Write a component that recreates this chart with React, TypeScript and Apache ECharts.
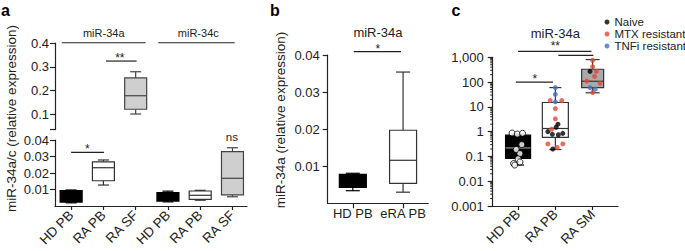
import React, { useEffect, useRef } from 'react';
import * as echarts from 'echarts';

const FONT = '"Liberation Sans", Arial, Helvetica, sans-serif';
const INK = '#222';

// ---------------- Panel a ----------------
const aCategories = ['HD PB', 'RA PB', 'RA SF', 'HD PB', 'RA PB', 'RA SF'];
const aGroupNames = ['miR-34a', 'miR-34c'];
const aYTitle = 'miR-34a/c (relative expression)';
const aUpperTicks = [0.1, 0.2, 0.3, 0.4];
const aLowerTicks = [0.01, 0.02, 0.03, 0.04];
// box stats: [min, q1, median, q3, max]
const a34aHdPb = [0.0019, 0.0024, 0.005, 0.0093, 0.0097];
const a34aRaPb = [0.0127, 0.0153, 0.0232, 0.0268, 0.0279];
const a34aRaSf = [0.101, 0.121, 0.178, 0.253, 0.279];
const a34cHdPb = [0.0025, 0.003, 0.006, 0.0081, 0.009];
const a34cRaPb = [0.0035, 0.004, 0.0065, 0.0091, 0.0095];
const a34cRaSf = [0.0056, 0.0067, 0.0168, 0.033, 0.0353];

// ---------------- Panel b ----------------
const bCategories = ['HD PB', 'eRA PB'];
const bTitle = 'miR-34a';
const bYTitle = 'miR-34a (relative expression)';
const bTicks = [0.01, 0.02, 0.03, 0.04];
const bHdPb = [0.0034, 0.0043, 0.0055, 0.0078, 0.0081];
const bEraPb = [0.003, 0.0054, 0.0116, 0.0197, 0.0354];

// ---------------- Panel c ----------------
const cCategories = ['HD PB', 'RA PB', 'RA SM'];
const cTitle = 'miR-34a';
const cTickLabels = ['0.001', '0.01', '0.1', '1', '10', '100', '1,000'];
const cLegend = ['Naive', 'MTX resistant', 'TNFi resistant'];
const cHdPbBox = [0.045, 0.083, 0.22, 0.72, 0.8];
const cRaPbBox = [0.19, 0.59, 1.34, 15, 60];
const cRaSmBox = [37, 60, 108, 330, 810];
const cHdPbPoints = [0.88, 0.8, 0.86, 0.3, 0.19, 0.13, 0.08, 0.06, 0.052, 0.045];
const cRaPbNaive = [2.0, 1.5, 1.0, 0.78, 0.75, 0.85, 0.2];
const cRaPbMtx = [18, 18, 8.5, 3.3, 1.25, 0.32, 0.32, 0.23];
const cRaPbTnfi = [60, 32, 16];
const cRaSmNaive = [270];
const cRaSmMtx = [760, 420, 270, 170, 110, 90, 38];
const cRaSmTnfi = [60, 52];

// horizontal jitter of the dots (layout, in category units)
const jHdPb = [-0.16, -0.02, 0.12, 0.1, -0.05, 0.05, 0, 0.05, -0.12, -0.09];
const jRaPbNaive = [0.07, 0.02, -0.2, -0.08, 0.08, 0.2, -0.07];
const jRaPbMtx = [-0.14, 0.17, 0, 0, -0.1, -0.2, 0.2, 0.05];
const jRaPbTnfi = [0, 0, 0];
const jRaSmNaive = [-0.07];
const jRaSmMtx = [0, 0, 0.1, 0.05, -0.16, 0.2, 0];
const jRaSmTnfi = [-0.07, 0.07];

const RED = '#dd4b39';
const BLUE = '#4472c4';

function boxSeries(
  stats: number[], x: number, xi: number, yi: number,
  boxW: number, capW: number, fill: string, stroke: string, medColor: string,
) {
  return {
    type: 'custom',
    xAxisIndex: xi,
    yAxisIndex: yi,
    silent: true,
    clip: false,
    z: 2,
    data: [[x, ...stats]],
    renderItem: (_p: any, api: any) => {
      const xv = api.value(0);
      const y = (k: number) => api.coord([xv, api.value(k)])[1];
      const cx = api.coord([xv, api.value(3)])[0];
      const yMin = y(1), yQ1 = y(2), yMed = y(3), yQ3 = y(4), yMax = y(5);
      const ls = { stroke, lineWidth: 1.2, fill: null };
      return {
        type: 'group',
        children: [
          { type: 'line', shape: { x1: cx, y1: yMax, x2: cx, y2: yQ3 }, style: ls },
          { type: 'line', shape: { x1: cx, y1: yQ1, x2: cx, y2: yMin }, style: ls },
          { type: 'line', shape: { x1: cx - capW / 2, y1: yMax, x2: cx + capW / 2, y2: yMax }, style: ls },
          { type: 'line', shape: { x1: cx - capW / 2, y1: yMin, x2: cx + capW / 2, y2: yMin }, style: ls },
          { type: 'rect', shape: { x: cx - boxW / 2, y: yQ3, width: boxW, height: yQ1 - yQ3 }, style: { fill, stroke, lineWidth: 1.2 } },
          { type: 'line', shape: { x1: cx - boxW / 2, y1: yMed, x2: cx + boxW / 2, y2: yMed }, style: { stroke: medColor, lineWidth: 1.2 } },
        ],
      };
    },
  };
}

type Api = any;
const seg = (api: Api, x1: number, y1: number, x2: number, y2: number) => {
  const p1 = api.coord([x1, y1]);
  const p2 = api.coord([x2, y2]);
  return { type: 'line', shape: { x1: p1[0], y1: p1[1], x2: p2[0], y2: p2[1] }, style: { stroke: INK, lineWidth: 1.2 } };
};
const txt = (api: Api, x: number, y: number, text: string, size: number, dy = 0) => {
  const p = api.coord([x, y]);
  return {
    type: 'text', x: p[0], y: p[1] + dy,
    style: { text, fontSize: size, fontFamily: FONT, fill: INK, align: 'center', verticalAlign: 'middle' },
  };
};
function annoSeries(xi: number, yi: number, anchor: number[], draw: (api: Api) => any[]) {
  return {
    type: 'custom', xAxisIndex: xi, yAxisIndex: yi, silent: true, clip: false, z: 5,
    data: [anchor],
    renderItem: (_p: any, api: Api) => ({ type: 'group', children: draw(api) }),
  };
}

function buildOption() {
  const axisLineStyle = { color: INK, width: 1.2 };
  const labelBase = { color: INK, fontFamily: FONT };
  const aIdx = aCategories.map((_, i) => i);
  const bIdx = bCategories.map((_, i) => i);
  const cIdx = cCategories.map((_, i) => i);

  const cMinorTicks: number[] = [];
  for (let e = -3; e < 3; e++) for (let k = 2; k <= 9; k++) cMinorTicks.push(k * Math.pow(10, e));

  const pts = (vals: number[], jit: number[], cat: number) => vals.map((v, i) => [cat + jit[i], v]);

  return {
    animation: false,
    textStyle: { fontFamily: FONT },
    grid: [
      { left: 55, top: 43, width: 192, height: 86.7, outerBoundsMode: 'none' },
      { left: 55, top: 140, width: 192, height: 66, outerBoundsMode: 'none' },
      { left: 327.7, top: 55, width: 100.5, height: 148.3, outerBoundsMode: 'none' },
      { left: 492.7, top: 57.3, width: 125.3, height: 148.7, outerBoundsMode: 'none' },
    ],
    xAxis: [
      { gridIndex: 0, type: 'value', min: -0.5, max: 5.45, show: false },
      {
        gridIndex: 1, type: 'value', min: -0.5, max: 5.45, splitLine: { show: false },
        axisLine: { show: true, onZero: false, lineStyle: axisLineStyle },
        axisTick: { show: true, customValues: aIdx, length: 4, lineStyle: axisLineStyle },
        axisLabel: { ...labelBase, customValues: aIdx, rotate: 45, margin: 7, fontSize: 13.5, formatter: (v: number) => aCategories[Math.round(v)] },
      },
      {
        gridIndex: 2, type: 'value', min: -0.5, max: 1.5, splitLine: { show: false },
        axisLine: { show: true, onZero: false, lineStyle: axisLineStyle },
        axisTick: { show: true, customValues: bIdx, length: 5, lineStyle: axisLineStyle },
        axisLabel: { ...labelBase, customValues: bIdx, margin: 4, fontSize: 13, formatter: (v: number) => bCategories[Math.round(v)] },
      },
      {
        gridIndex: 3, type: 'value', min: -0.68, max: 2.68, splitLine: { show: false },
        axisLine: { show: true, onZero: false, lineStyle: axisLineStyle },
        axisTick: { show: true, customValues: cIdx, length: 4, lineStyle: axisLineStyle },
        axisLabel: { ...labelBase, customValues: cIdx, rotate: 45, margin: 6, fontSize: 13.5, formatter: (v: number) => cCategories[Math.round(v)] },
      },
    ],
    yAxis: [
      {
        gridIndex: 0, type: 'value', min: 0.035, max: 0.4, splitLine: { show: false },
        axisLine: { show: true, onZero: false, lineStyle: axisLineStyle },
        axisTick: { show: true, customValues: [0.035, ...aUpperTicks], length: 5, lineStyle: axisLineStyle },
        axisLabel: { ...labelBase, customValues: aUpperTicks, margin: 6, fontSize: 13, formatter: (v: number) => v.toFixed(1) },
      },
      {
        gridIndex: 1, type: 'value', min: 0, max: 0.04, splitLine: { show: false },
        axisLine: { show: true, onZero: false, lineStyle: axisLineStyle },
        axisTick: { show: true, customValues: aLowerTicks, length: 5, lineStyle: axisLineStyle },
        axisLabel: { ...labelBase, customValues: aLowerTicks, margin: 6, fontSize: 13, formatter: (v: number) => v.toFixed(2) },
      },
      {
        gridIndex: 2, type: 'value', min: 0, max: 0.04, splitLine: { show: false },
        axisLine: { show: true, onZero: false, lineStyle: axisLineStyle },
        axisTick: { show: true, customValues: bTicks, length: 5, lineStyle: axisLineStyle },
        axisLabel: { ...labelBase, customValues: bTicks, margin: 8, fontSize: 13, formatter: (v: number) => v.toFixed(2) },
      },
      {
        gridIndex: 3, type: 'log', logBase: 10, min: 0.001, max: 1000, splitLine: { show: false },
        axisLine: { show: true, onZero: false, lineStyle: axisLineStyle },
        axisTick: { show: true, length: 5, lineStyle: axisLineStyle },
        axisLabel: {
          ...labelBase, margin: 9, fontSize: 13,
          formatter: (v: number) => cTickLabels[Math.round(Math.log10(v)) + 3],
        },
      },
    ],
    legend: {
      data: cLegend,
      orient: 'vertical',
      left: 604.5,
      top: 16,
      padding: 0,
      itemGap: 0,
      itemWidth: 5,
      itemHeight: 5,
      icon: 'circle',
      selectedMode: false,
      textStyle: { fontSize: 11.5, color: INK, fontFamily: FONT },
    },
    graphic: [
      { type: 'text', x: 1, y: 10, style: { text: 'a', font: `bold 16px ${FONT}`, fill: '#000', verticalAlign: 'middle' } },
      { type: 'text', x: 270, y: 10, style: { text: 'b', font: `bold 16px ${FONT}`, fill: '#000', verticalAlign: 'middle' } },
      { type: 'text', x: 451.5, y: 10, style: { text: 'c', font: `bold 16px ${FONT}`, fill: '#000', verticalAlign: 'middle' } },
      {
        type: 'text', x: 11, y: 118.5, rotation: Math.PI / 2,
        style: { text: aYTitle, fontSize: 13.5, fontFamily: FONT, fill: INK, align: 'center', verticalAlign: 'middle' },
      },
      {
        type: 'text', x: 280, y: 120, rotation: Math.PI / 2,
        style: { text: bYTitle, fontSize: 13.5, fontFamily: FONT, fill: INK, align: 'center', verticalAlign: 'middle' },
      },
    ],
    series: [
      // panel a boxes
      boxSeries(a34aHdPb, 0, 1, 1, 22, 11, '#000', '#000', '#000'),
      boxSeries(a34aRaPb, 1, 1, 1, 22, 11, '#fff', '#333', '#333'),
      boxSeries(a34aRaSf, 2, 0, 0, 22, 11, '#cfcfcf', '#444', '#444'),
      boxSeries(a34cHdPb, 3, 1, 1, 22, 11, '#000', '#000', '#000'),
      boxSeries(a34cRaPb, 4, 1, 1, 22, 11, '#fff', '#333', '#333'),
      boxSeries(a34cRaSf, 5, 1, 1, 22, 11, '#cfcfcf', '#444', '#444'),
      // panel a annotations
      annoSeries(0, 0, [0, 0.2], (api) => [
        seg(api, -0.29, 0.401, 2.31, 0.401),
        seg(api, 2.7, 0.401, 5.07, 0.401),
        txt(api, 1.01, 0.441, aGroupNames[0], 11),
        txt(api, 3.94, 0.441, aGroupNames[1], 11),
        seg(api, 1.08, 0.324, 2.03, 0.324),
        txt(api, 1.51, 0.324, '**', 12, -3),
      ]),
      annoSeries(1, 1, [0, 0.02], (api) => [
        seg(api, 0, 0.0325, 1.02, 0.0325),
        txt(api, 0.5, 0.0325, '*', 12, -3),
        txt(api, 4.98, 0.0421, 'ns', 11.5),
      ]),
      // panel b boxes
      boxSeries(bHdPb, 0, 2, 2, 27, 14, '#000', '#000', '#000'),
      boxSeries(bEraPb, 1, 2, 2, 27, 14, '#fff', '#333', '#333'),
      annoSeries(2, 2, [0, 0.02], (api) => [
        seg(api, 0.02, 0.0409, 0.96, 0.0409),
        txt(api, 0.5, 0.0409, '*', 12, -3),
        txt(api, 0.5, 0.0462, bTitle, 13),
      ]),
      // panel c boxes
      boxSeries(cHdPbBox, 0, 3, 3, 25, 12, '#000', '#000', '#999'),
      boxSeries(cRaPbBox, 1, 3, 3, 26, 12, '#fff', '#333', '#333'),
      boxSeries(cRaSmBox, 2, 3, 3, 22, 14, '#aaaaaa', '#333', '#333'),
      // panel c minor ticks on log axis
      {
        type: 'custom', xAxisIndex: 3, yAxisIndex: 3, silent: true, clip: false,
        data: cMinorTicks.map((v) => [-0.68, v]),
        renderItem: (_p: any, api: Api) => {
          const pt = api.coord([api.value(0), api.value(1)]);
          return { type: 'line', shape: { x1: pt[0] - 2.5, y1: pt[1], x2: pt[0], y2: pt[1] }, style: { stroke: INK, lineWidth: 1 } };
        },
      },
      annoSeries(3, 3, [0, 1], (api) => [
        seg(api, -0.06, 100, 0.94, 100),
        txt(api, 0.45, 100, '*', 12, -3),
        seg(api, 0.0, 1746, 1.97, 1746),
        seg(api, 1.08, 1206, 2.02, 1206),
        txt(api, 1.0, 1746, '**', 12, -5),
        txt(api, 1.0, 9270, cTitle, 13),
      ]),
      // panel c dots
      {
        type: 'scatter', name: 'HD', xAxisIndex: 3, yAxisIndex: 3, z: 4, symbol: 'circle', symbolSize: 6,
        itemStyle: { color: '#fff', borderColor: '#000', borderWidth: 1 },
        data: pts(cHdPbPoints, jHdPb, 0),
      },
      {
        type: 'scatter', name: cLegend[0], xAxisIndex: 3, yAxisIndex: 3, z: 4, symbol: 'circle', symbolSize: 5,
        itemStyle: { color: '#000' },
        data: [...pts(cRaPbNaive, jRaPbNaive, 1), ...pts(cRaSmNaive, jRaSmNaive, 2)],
      },
      {
        type: 'scatter', name: cLegend[1], xAxisIndex: 3, yAxisIndex: 3, z: 4, symbol: 'circle', symbolSize: 5,
        itemStyle: { color: RED },
        data: [...pts(cRaPbMtx, jRaPbMtx, 1), ...pts(cRaSmMtx, jRaSmMtx, 2)],
      },
      {
        type: 'scatter', name: cLegend[2], xAxisIndex: 3, yAxisIndex: 3, z: 4, symbol: 'circle', symbolSize: 5,
        itemStyle: { color: BLUE },
        data: [...pts(cRaPbTnfi, jRaPbTnfi, 1), ...pts(cRaSmTnfi, jRaSmTnfi, 2)],
      },
    ],
  };
}

export default function App() {
  const ref = useRef<HTMLDivElement>(null);
  useEffect(() => {
    if (!ref.current) return;
    const chart = echarts.init(ref.current, null, { renderer: 'svg' });
    chart.setOption(buildOption() as any);
    return () => chart.dispose();
  }, []);
  return (
    <div
      ref={ref}
      style={{ position: 'absolute', left: 0, top: 0, width: 685, height: 251, background: '#fff' }}
    />
  );
}
